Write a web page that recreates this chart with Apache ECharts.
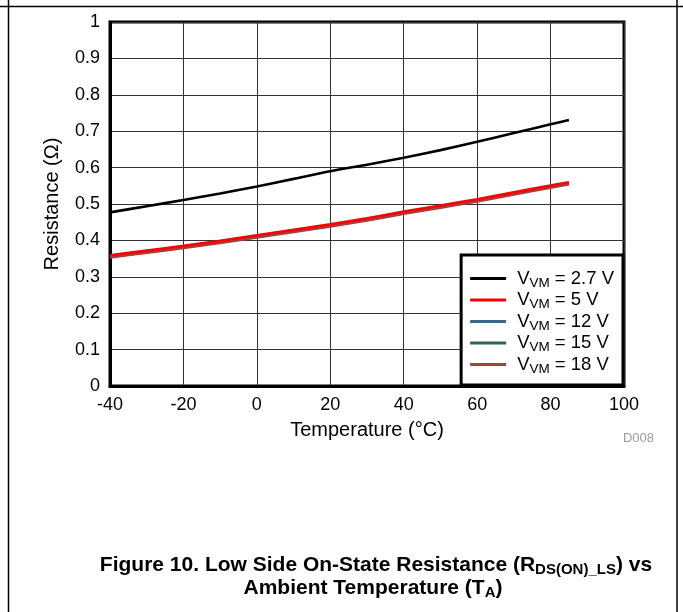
<!DOCTYPE html>
<html>
<head>
<meta charset="utf-8">
<script src="https://cdn.jsdelivr.net/npm/echarts@6/dist/echarts.min.js"></script>
<style>
html,body{margin:0;padding:0;background:#fff;}
#chart{width:683px;height:612px;}
</style>
</head>
<body>
<div id="chart"></div>
<script>
var temperatures = [-40, -30, -20, -10, 0, 10, 20, 30, 40, 50, 60, 70, 80, 85];
var vm2p7 = [0.477, 0.494, 0.511, 0.529, 0.548, 0.569, 0.590, 0.608, 0.627, 0.648, 0.671, 0.695, 0.719, 0.731];
var vm5 = [0.359, 0.372, 0.385, 0.399, 0.414, 0.429, 0.444, 0.461, 0.479, 0.496, 0.513, 0.532, 0.551, 0.560];
var vm12 = [0.356, 0.369, 0.382, 0.396, 0.411, 0.426, 0.441, 0.458, 0.476, 0.493, 0.510, 0.529, 0.548, 0.557];
var vm15 = [0.355, 0.368, 0.381, 0.395, 0.410, 0.425, 0.440, 0.457, 0.475, 0.492, 0.509, 0.528, 0.547, 0.556];
var vm18 = [0.353, 0.366, 0.379, 0.393, 0.408, 0.423, 0.438, 0.455, 0.473, 0.490, 0.507, 0.526, 0.545, 0.554];
var seriesNames = ['2.7 V', '5 V', '12 V', '15 V', '18 V'];
var seriesColors = ['#000000', '#ff0000', '#336a8c', '#2d6b4c', '#a3403f'];
var seriesData = [vm2p7, vm5, vm12, vm15, vm18];
var xTicks = [-40, -20, 0, 20, 40, 60, 80, 100];
var yTicks = [0, 0.1, 0.2, 0.3, 0.4, 0.5, 0.6, 0.7, 0.8, 0.9, 1];

var FONT = '"Liberation Sans", Arial, Helvetica, sans-serif';

function pairs(xs, ys) {
  return xs.map(function (x, i) { return [x, ys[i]]; });
}

var series = seriesNames.map(function (n, i) {
  return {
    name: n,
    type: 'line',
    data: pairs(temperatures, seriesData[i]),
    showSymbol: false,
    symbol: 'none',
    smooth: 0.3,
    lineStyle: { color: seriesColors[i], width: 2.6 },
    itemStyle: { color: seriesColors[i] },
    z: i === 1 ? 6 : 3
  };
});

var titleRich = {
  b: { fontSize: 21, fontWeight: 'bold', fontFamily: FONT, fill: '#000', lineHeight: 24 },
  bs: { fontSize: 15, fontWeight: 'bold', fontFamily: FONT, fill: '#000', lineHeight: 24, padding: [10, 0, 0, 0] }
};

var chart = echarts.init(document.getElementById('chart'), null, { renderer: 'canvas' });
chart.setOption({
  animation: false,
  backgroundColor: '#fff',
  textStyle: { fontFamily: FONT },
  grid: {
    left: 110, top: 22, right: 59, bottom: 226,
    show: true, borderColor: '#000', borderWidth: 3, backgroundColor: 'rgba(0,0,0,0)'
  },
  xAxis: {
    type: 'value',
    min: xTicks[0], max: xTicks[xTicks.length - 1], interval: 20,
    name: 'Temperature (°C)',
    nameLocation: 'middle', nameGap: 34,
    nameTextStyle: { fontSize: 20, color: '#000', fontFamily: FONT },
    axisLine: { show: true, onZero: false, lineStyle: { color: '#000', width: 3 } },
    axisTick: { show: false },
    axisLabel: { fontSize: 18, color: '#000', margin: 10, fontFamily: FONT },
    splitLine: { show: true, lineStyle: { color: '#333', width: 1 } }
  },
  yAxis: {
    type: 'value',
    min: yTicks[0], max: yTicks[yTicks.length - 1], interval: 0.1,
    name: 'Resistance (Ω)',
    nameLocation: 'middle', nameGap: 48, nameRotate: 90,
    nameTextStyle: { fontSize: 20, color: '#000', fontFamily: FONT },
    axisLine: { show: true, onZero: false, lineStyle: { color: '#000', width: 3 } },
    axisTick: { show: false },
    axisLabel: {
      fontSize: 18, color: '#000', margin: 10, fontFamily: FONT,
      formatter: function (v) { return String(+v.toFixed(1)); }
    },
    splitLine: { show: true, lineStyle: { color: '#333', width: 1 } }
  },
  legend: {
    orient: 'vertical',
    right: 60, bottom: 227,
    padding: [12, 9, 9, 9],
    itemGap: -1.5,
    itemWidth: 36, itemHeight: 3,
    icon: 'rect',
    backgroundColor: '#fff',
    borderColor: '#000', borderWidth: 3,
    data: seriesNames,
    formatter: function (name) {
      return '{v|V}{s|VM}{v| = ' + name + '}';
    },
    textStyle: {
      color: '#000', fontFamily: FONT, padding: [0, 0, 0, 6],
      rich: {
        v: { fontSize: 18.5, lineHeight: 20, color: '#000', fontFamily: FONT },
        s: { fontSize: 13.5, lineHeight: 20, color: '#000', fontFamily: FONT, padding: [9, 0, 0, 0] }
      }
    }
  },
  graphic: [
    { type: 'line', shape: { x1: 0, y1: 6.5, x2: 683, y2: 6.5 }, style: { stroke: '#000', lineWidth: 1.5 }, silent: true },
    { type: 'line', shape: { x1: 8.5, y1: 0, x2: 8.5, y2: 612 }, style: { stroke: '#000', lineWidth: 1.5 }, silent: true },
    { type: 'line', shape: { x1: 677, y1: 0, x2: 677, y2: 612 }, style: { stroke: '#000', lineWidth: 1.5 }, silent: true },
    { type: 'text', right: 29, top: 432, style: { text: 'D008', fill: '#9a9a9a', font: '13px ' + FONT } },
    {
      type: 'text', x: 376, y: 565,
      style: {
        text: '{b|Figure 10. Low Side On-State Resistance (R}{bs|DS(ON)_LS}{b|) vs}',
        align: 'center', verticalAlign: 'middle',
        rich: titleRich
      }
    },
    {
      type: 'text', x: 373, y: 588,
      style: {
        text: '{b|Ambient Temperature (T}{bs|A}{b|)}',
        align: 'center', verticalAlign: 'middle',
        rich: titleRich
      }
    }
  ],
  series: series
});
</script>
</body>
</html>
